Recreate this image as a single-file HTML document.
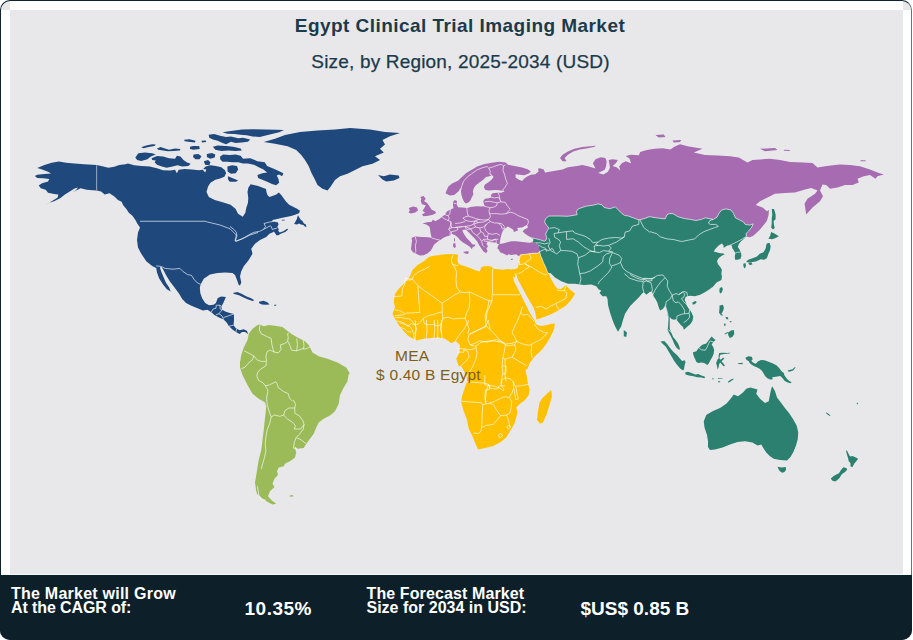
<!DOCTYPE html>
<html><head><meta charset="utf-8"><title>Egypt Clinical Trial Imaging Market</title>
<style>
html,body{margin:0;padding:0;background:#fff;}
body{width:913px;height:640px;overflow:hidden;position:relative;font-family:"Liberation Sans",sans-serif;}
#frame{position:absolute;left:0;top:0;width:910px;height:638px;border:1px solid #6b7378;border-top-color:#0d2430;border-left-color:#0d2430;border-radius:10px;background:#e8e8ea;overflow:hidden;}
.wt{position:absolute;background:#fff;}
#map{position:absolute;left:0;top:0;}
.t1{position:absolute;left:0;width:920px;text-align:center;top:14.8px;font-size:19px;font-weight:bold;color:#1b3a4b;letter-spacing:0.45px;white-space:nowrap;}
.t2{position:absolute;left:0;width:921px;text-align:center;top:50.6px;font-size:19px;color:#1b3a4b;-webkit-text-stroke:0.25px #1b3a4b;letter-spacing:0.18px;white-space:nowrap;}
#foot{position:absolute;left:0;top:575px;width:912px;height:65px;background:#0d1f29;border-radius:0 0 10px 10px;}
.f{position:absolute;color:#fff;font-weight:bold;white-space:nowrap;}
.lab{position:absolute;color:#7d5f17;font-size:15.5px;white-space:nowrap;text-align:center;}
</style></head><body>
<div id="frame"></div>
<div class="wt" style="left:10px;top:1px;width:892.5px;height:9px"></div>
<div class="wt" style="left:1px;top:10px;width:9px;height:566px"></div>
<div class="wt" style="left:902.5px;top:10px;width:8.5px;height:566px"></div>
<div class="wt" style="left:1px;top:574.2px;width:910px;height:1.2px;background:#f4fafa"></div>
<svg id="map" width="913" height="640" viewBox="0 0 913 640">
<path fill="#a66bb0" d="M410.95,249.15 411.5,244.76 412.05,240.38 411.5,237.65 415.33,236.55 421.91,236.88 428.48,237.32 431.76,237.97 430.67,233.81 430.12,229.98 429.57,226.69 426.29,224.5 422.45,223.41 426.83,222.31 431.76,221.76 432.86,219.57 435.05,221.22 439.43,219.03 442.17,216.83 444.91,214.64 447.1,211.36 450.38,209.72 453.67,208.07 453.14,206.48 452.92,202.1 454.79,199.91 456.98,201 456.65,204.29 458.07,207.35 461.91,207.57 467.38,208.12 470.67,207.03 476.14,206.26 481.62,206.48 484.69,205.93 483.81,203.74 483.26,201 484.91,198.81 488.74,198.26 491.48,197.17 490.93,194.98 492.57,193.34 496.96,192.79 501.34,192.79 504.62,191.14 499.15,190.27 494.76,190.05 489.29,190.6 485.45,190.05 483.81,187.31 484.91,184.57 488.19,182.38 491.48,179.64 493.67,176.91 492.03,175.26 489.29,176.36 486,176.91 483.26,179.64 479.43,182.38 476.14,185.12 473.95,187.86 472.86,191.14 473.41,194.43 471.76,197.17 470.67,199.91 469.03,202.1 466.83,203.19 465.74,203.19 464.1,202.1 462.45,198.26 461.36,194.43 460.81,190.05 460.59,187.86 458.62,191.14 454.24,194.98 449.86,195.53 445.48,193.34 448.21,186.76 452.05,183.48 458.07,180.74 461.91,176.91 466.29,173.07 471.76,169.79 477.24,166.5 483.81,164.31 491.48,162.67 499.15,161.79 505.72,162.45 507.91,164.86 514.48,165.95 522.15,167.6 527.62,169.24 530.91,171.43 528.72,173.62 524.34,175.26 519.96,174.72 515.58,174.17 515.58,177.45 518.86,179.64 522.15,181.07 524.34,178.55 527.62,176.36 530.91,174.72 535.29,174.17 538.58,171.43 538.03,168.69 540,168.14 543.75,169.5 545,172.5 552.5,171.25 562.5,169.5 567.89,167.2 577.09,165.89 582.34,164.97 588.92,166.55 595.49,168.52 592.86,163.26 595.49,159.32 600.75,157.34 605.35,158 606.66,161.29 606,166.55 604.69,169.83 598.12,173.12 603.38,174.43 607.98,171.8 609.95,167.86 609.29,163.26 608.63,159.97 612.58,159.32 617.83,159.97 615.86,163.26 612.58,165.89 616.52,167.2 620.46,170.49 619.15,166.55 621.78,163.26 625.72,161.29 630.98,163.26 629.66,158.66 625.72,156.03 630.98,154.72 638.86,155.37 640.18,152.09 646.75,150.12 654.64,148.8 662.52,148.14 670.41,149.46 674.35,146.83 680.01,144.2 687.5,146.25 702.5,148.75 693.75,152.5 705,155 717.5,155.5 730,156.25 738.75,157.5 747.5,162.5 752.5,160 760,159.5 770,158.75 780,160 790,162 802.5,162.5 812.5,163 817.5,167.5 825,166.25 835,165 840,164.5 850,165 860,166.25 870,169.5 877.5,172.5 883.75,174.5 877.5,176.25 875.5,178.75 870,175 863.75,176.25 857.5,178.75 858.75,182.5 852.5,185 845,185 837.5,187.5 830,188.75 826.25,185 822.5,184.5 820,190.5 823,196.25 820,201.25 812.5,207.5 806.25,214.5 804.5,203.75 807.5,198.75 815,193.75 817.5,190.5 811.25,188 805,189.5 795,192.5 785,193 775,193.75 767.5,197.5 760,201.25 755.75,205 762.5,207.5 767,211.25 769,210 768.46,215.48 766.81,220.95 763.53,225.33 759.69,229.72 755.86,233.55 752.57,236.29 749.29,237.16 747.1,236.83 735,235 675,230 625,225 557.62,242.86 540.1,241.76 532.43,237.93 531.34,237.38 528.05,235.74 524.76,233.55 522.57,231.36 524.76,229.17 528.05,227.52 526.96,225.33 524.76,226.43 521.48,227.52 517.1,228.07 518.19,230.26 516,231.36 513.81,231.91 513.26,229.72 510.53,228.07 507.79,226.43 505.05,228.62 502.86,230.81 501.76,233.55 501.22,235.19 500.67,237.38 500.12,240.67 499.57,243.95 497.38,243.95 496.29,242.86 491.91,242.31 487.52,241.76 486.43,243.95 488.07,246.14 486.43,248.34 487.52,251.07 486.43,252.72 484.79,251.62 483.69,248.88 486.53,253.53 483.24,251.34 481.05,248.05 478.86,244.76 477.22,241.48 474.48,238.19 471.19,234.91 467.91,231.62 465.72,229.43 462.43,229.98 462.98,232.17 464.62,234.91 466.81,238.19 470.1,241.48 472.29,244.22 475.58,244.76 474.48,246.41 472.84,246.96 471.74,249.15 470.1,246.96 466.81,244.76 462.98,242.57 459.69,239.84 457.5,237.1 454.76,234.91 451.48,233.81 449.84,235.78 446,236.55 442.72,238.19 439.98,240.16 437.24,242.03 433.95,244.76 432.31,248.05 430.67,250.79 427.38,253.53 423.55,255.17 419.72,255.5 415.88,253.53 413.14,252.43Z M499.57,243.95 502.86,243.41 507.24,242.31 511.62,241.22 516,241.22 520.38,241.76 524.76,242.31 529.15,242.86 532.43,242.31 535.72,242.86 538.46,245.05 539,248.34 539.55,251.62 537.91,253.26 533.53,253.26 529.15,253.81 524.76,254.36 520.38,254.91 519.29,256.55 516,254.36 511.62,254.91 508.34,254.36 507.24,255.45 503.95,253.81 500.12,252.17 499.03,249.98 497.38,248.34 497.93,246.14 498.7,244.61Z M420.26,197.12 423.55,196.02 425.74,198.76 424.1,200.95 427.38,203.14 429.57,206.43 431.76,209.72 435.05,211.36 436.14,213 432.86,214.64 428.48,215.74 423.55,216.29 421.91,214.64 425.19,212.45 422.45,210.81 424.1,208.62 425.74,205.33 421.91,204.24 420.81,200.95 421.36,198.76Z M408.76,208.07 413.14,206.43 416.98,207.52 418.07,210.26 415.33,212.45 410.95,213.55 408.54,212.45 409.86,210.26Z M462.98,251.88 466.81,251.34 469,251.56 467.91,254.07 465.17,253.53Z M453.12,243.67 455.31,243.12 455.86,246.96 454.22,248.05 453.12,246.41Z M454,238.19 454.98,238.19 455.09,241.48 454.22,241.48Z M655.5,135 663.75,134.5 665.5,137 658.75,137.5Z M672.5,140.5 681.25,140 680,142 673.75,142.5Z M760,148.75 775,148 777.5,150 765,151.25Z M783.75,149.75 790,150 789.5,151 784,150.75Z M860.5,160.25 865.5,160.25 865.5,161.25 860.5,161.25Z M560,158 562.63,154.72 567.89,151.43 574.46,148.8 582.34,147.09 590.23,146.17 595.49,145.78 594.83,146.83 587.6,148.14 579.72,149.46 573.14,151.43 567.89,154.72 564.6,158 566.57,161.29 562.63,161.29Z M510.74,258.96 512.94,258.63 512.72,259.84 510.96,259.95Z"/>
<path fill="#2b8070" d="M771.74,209.12 773.93,209.12 774.7,211.1 775.58,214.38 775.58,219.31 773.6,220.95 773.93,224.79 774.7,228.07 772.84,229.5 771.19,227.52 771.74,223.14 771.74,218.76 772.29,214.38Z M532.43,237.93 535.72,238.7 540.1,239.79 544.48,241.22 546.12,240.12 546.67,237.38 545.58,234.1 547.22,230.81 548.86,228.07 546.67,225.33 544.48,222.05 545.58,218.76 548.86,216.02 560,216 567.89,216.27 577.09,214.69 576.43,211.4 578.4,208.77 586.29,206.15 592.86,205.23 598.12,203.91 602.06,204.83 604.03,207.46 609.95,208.77 615.21,206.8 617.83,209.43 621.78,213.38 624.41,215.35 628.35,216 633.61,217.98 638.86,219.95 644.12,218.63 649.38,216.66 657.27,217.98 665.15,218.9 667.12,214.69 669.1,213.64 673,213.65 677.6,216.55 684.17,218.52 690.75,219.44 696,220.49 701.26,219.44 705.21,217.86 709.15,218.52 713.09,219.44 717.03,217.2 719.01,213.26 721.64,209.97 726.24,208.92 730.84,209.97 733.46,213.26 735.44,217.86 739.38,219.83 743.32,221.8 745.29,224.43 749.89,225.09 753.18,223.77 751.87,227.06 748.58,231 745.95,233.63 746.61,236.26 743.81,239.03 741.07,241.22 738.88,243.95 737.79,246.69 739.43,249.43 741.07,252.72 741.4,256 740.53,258.74 737.79,259.84 735.05,259.84 734.83,256.55 735.27,253.26 733.95,250.53 732.31,248.34 731.76,245.6 730.12,245.05 727.38,245.6 724.64,247.24 723.55,247.79 723.55,245.6 721.91,243.41 718.62,245.6 715.33,248.88 713.69,251.4 716.43,252.17 720.26,253.26 723.55,253.59 724.64,254.36 721.36,256 718.62,258.19 716.98,260.93 718.07,264.22 720.26,266.96 721.91,269.69 721.36,273.53 721.91,276.81 721.36,280.1 716.53,282.6 713.24,286.43 708.86,289.72 704.48,292.45 700.1,294.64 695.72,296.07 694.62,296.29 690.24,295.74 686.96,296.29 685.31,297.38 684.76,300.12 685.86,302.86 687.5,306.14 689.69,309.43 691.88,313.26 693.31,317.1 692.43,320.93 690.24,324.22 686.96,326.96 683.89,329.69 683.02,327.11 680.56,324.65 678.1,321.69 676.12,319.22 673.66,319.72 671.19,318.73 669.72,316.76 669.72,322.67 669.72,328.59 671.19,332.53 673.17,336.97 675.63,339.93 678.1,343.38 679.57,347.32 680.07,349.78 678.1,349.29 676.12,347.32 674.15,343.87 672.67,339.93 670.7,335.98 668.73,332.53 667.55,330.07 668.04,327.6 668.34,322.67 667.94,316.76 666.76,310.84 665.28,305.91 665.27,303.95 664.5,306.69 662.86,308.88 660.12,310.53 658.7,307.24 657.38,302.86 655.74,299.57 653.55,296.29 651.91,291.36 649.72,291.91 646.43,294.64 643.69,291.91 642.05,293.55 638.76,297.38 634.38,301.76 630,306.14 625,313.75 623,320 621.25,326.25 618,331.75 615,326.25 612.5,320 610,312.5 608,305 607.5,298.75 606.25,296.25 602.5,296.25 599.5,293 601.25,290.5 598.75,289.5 596.25,286.25 591.25,284.5 583.75,285 575,283.75 568,283.75 561.25,281.25 555,277.5 550.5,273 545.58,274.07 542.29,264.76 539.55,257.1 538.57,253.81 539.55,251.62 539,248.34 538.46,245.05 535.72,242.86 532.43,242.31 533.53,240.12Z M623.75,330 627,332.5 626.25,337 623.75,336.25Z M692.39,302.46 695.35,300.99 696.83,301.97 694.85,304.14 692.59,304.44Z M719.81,288.07 722,286.98 722.88,289.17 721.79,292.45 720.03,293.55 719.27,290.81Z M771.19,231.91 774.48,233.55 778.86,236.29 775.58,237.93 772.29,239.35 768.46,238.7 770.1,235.74Z M766.81,243.41 769.55,242.86 770.65,246.14 770.1,249.98 768.46,253.81 766.81,258.19 764.07,259.84 760.79,259.29 758.05,260.38 755.86,261.48 752.57,262.03 749.29,262.57 746,262.03 748.19,259.84 752.57,258.19 756.96,256.55 759.69,253.81 763.53,252.17 765.72,248.34 766.27,245.05Z M748.19,263.12 751.48,262.57 752.57,264.22 749.84,265.31Z M743.26,263.67 745.45,263.12 746,265.86 744.91,268.6 743.59,266.96Z M660.42,341.41 664.37,340.91 667.32,344.37 670.28,348.31 673.73,352.25 677.18,355.21 679.65,358.17 682.11,361.12 684.57,360.14 685.56,362.11 684.57,365.56 684.08,369.01 683.1,370.49 680.14,368.52 677.18,365.07 674.22,361.12 671.76,356.69 668.8,351.76 665.84,346.83 662.39,343.38Z M685.07,372.46 688.02,371.67 691.47,372.95 695.42,374.43 698.38,373.94 701.33,375.42 704.78,376.4 704.78,378.18 701.33,377.59 697.39,377.19 693.45,376.21 689.01,375.42 685.56,374.43Z M727.95,381.83 730.41,379.85 733.37,378.38 733.67,379.16 730.91,381.14 728.44,382.81Z M711.98,378.38 713.75,378.38 713.75,379.16 711.98,379.16Z M717.89,378.18 722.63,378.38 722.63,379.07 717.89,378.97Z M717.89,381.33 720.06,381.33 720.26,382.32 718.09,382.32Z M738.3,363.39 742.74,363.59 742.74,364.18 738.3,364.08Z M692.95,352.25 696.4,351.27 698.87,347.82 702.32,344.86 706.26,343.38 709.22,339.44 711.68,336.48 713.66,338.45 715.63,339.93 713.16,341.9 711.68,344.86 713.16,346.83 714.15,349.79 713.66,353.73 712.18,357.18 710.21,360.63 708.73,363.59 707.25,365.07 704.29,363.1 701.33,362.6 698.38,363.1 696.4,362.11 694.93,358.66 693.45,355.21Z M716.12,363.1 717.6,359.15 719.08,357.67 720.56,359.65 723.02,357.87 724.5,358.17 722.53,360.14 721.54,361.62 723.51,363.59 724.99,366.05 723.51,366.35 721.54,364.08 720.06,362.6 719.08,364.57 718.58,367.53 717.6,369.5 717.11,366.55Z M718.88,353.93 719.27,353.04 723.02,352.74 727.95,352.94 729.92,352.55 729.43,353.53 724.01,353.93 720.26,354.72 719.57,357.87 718.58,357.87Z M719.5,305.42 722.95,304.73 723.94,307.89 722.95,311.34 721.47,313.8 723.44,315.77 720.98,315.28 719.01,312.82 719.5,308.87Z M725.41,316.76 727.88,317.25 728.37,319.22 726.4,319.22Z M723.94,323.66 725.41,323.46 725.71,325.63 724.13,325.83Z M729.65,321.19 731.33,321.1 731.43,322.28 729.85,322.28Z M728.37,332.53 730.84,330.56 733.79,330.07 734.29,334.01 732.31,336.97 729.85,337.95 728.37,335.49 727.88,333.02 724.92,334.5 724.43,333.81 727.68,332.04Z M737.96,363.24 742.39,362.74 742.69,363.73 738.15,364.12Z M745.35,357.82 748.31,356.34 751.76,356.83 752.74,359.29 751.27,360.77 753.24,362.74 755.7,363.73 758.17,361.27 761.12,359.98 764.57,360.28 768.52,361.76 772.46,363.24 776.4,365.21 779.36,368.17 781.33,371.12 783.8,373.1 784.29,375.07 786.26,378.02 788.73,380.49 791.68,382.46 790.21,383.25 787.25,382.26 784.78,380.98 782.32,378.02 780.35,376.05 777.39,376.55 773.94,377.04 771.97,377.53 772.95,379.31 770,379.5 767.04,378.02 765.07,376.05 763.59,373.59 762.11,371.12 759.65,368.66 756.69,367.18 754.22,366.19 751.76,364.72 749.79,363.24 748.8,361.27 746.34,359.79Z M787.74,370.43 790.21,369.65 792.67,369.15 794.15,367.48 795.63,366.88 794.64,368.66 793.16,370.43 790.21,371.62 788.23,371.42Z M703.75,421.25 706.25,415 712.5,411.25 720,408 726.25,403.75 730,399.5 733.75,394.5 738,396.25 743,392.5 746.25,388.75 750.5,387.5 757.5,389.5 756.25,393.75 760,398.75 765,403 768.75,401.25 770,394.5 771.25,388.75 772.25,386.25 775,391.25 777,397.5 781.25,403 784.5,407.5 789,413 793,419 796.75,425.75 798.25,432.5 797.75,439.25 796,445.5 793.5,451.75 790.5,457 787,460.5 780,460 773.75,458.75 770,456.25 766.25,452.5 763.75,448.75 761.25,444.5 757.5,445.5 752.5,442.5 745,441.25 737.5,442 730,444.5 722.5,447.5 715,449.5 710,450 708,447 708,441.25 707,435 704.5,427.5Z M777.63,466.7 781.47,467.47 785.76,467.01 786.07,469.77 784.53,472.07 782.23,472.84 779.93,471.3 778.4,469Z M845.87,450.3 847.4,451.37 848.63,453.98 850.16,456.43 852.31,456.12 855.38,457.35 858.14,458.73 856.3,461.34 854.15,463.79 852.46,467.16 850.47,466.24 850.47,463.18 848.63,461.03 848.02,457.96 846.79,453.98Z M843.57,467.16 846.64,468.24 847.1,469.77 845.1,472.07 842.04,473.91 840.96,475.44 839.74,477.74 837.44,480.04 835.14,481.58 832.07,480.5 830.84,478.51 833.3,476.36 835.9,474.83 838.97,473.3 840.5,470.84 842.04,468.7Z M825.94,412.27 828.24,413.49 830.54,415.64 829.77,415.95 827.47,414.57 825.94,413.03Z M856.76,402.76 857.83,402.76 857.83,404.29 856.76,404.29Z"/>
<path fill="#ffc000" d="M428.75,257 435,255.5 440,255 440,254.79 446.57,254.24 454.24,254.02 458.07,254.79 457.52,259.17 458.07,263 460.81,264.97 465.19,266.29 470.67,268.26 476.14,270.45 479.98,271.54 481.07,267.38 483.81,266.29 488.19,266.07 491.48,266.83 493.67,268.7 498.05,269.35 503.53,269.79 507.91,269.03 511.19,269.57 515.58,269.03 517.77,267.93 518.86,263.55 519.74,259.72 520.5,255.88 520.83,254.02 524.76,254.36 529.15,253.81 533.53,253.26 537.91,253.26 539.55,251.62 540.65,256 542.29,259.29 543.38,262.57 545.58,266.96 547.22,271.34 548.86,274.07 551.48,280 553.12,282.19 554.76,285.48 556.96,288.21 560.24,289.31 562.98,287.67 565.72,284.93 566.81,286.02 569,288.76 572.29,291.5 575.03,293.69 573.38,296.43 570.1,301.36 565.72,305.74 561.34,308.48 556.96,311.22 551.48,313.95 546,316.14 540.53,318.34 536.36,319.43 535.93,316.14 535.05,311.76 533.08,306.83 530.23,301.91 527.05,296.43 524.1,290.95 521.03,285.48 518.07,280 516.67,276.14 516.12,272.86 515.58,276.14 515.03,277.79 512.84,276.14 511.19,272.86 512.29,275.05 514.48,281.62 513.14,280 516.43,286.02 519.72,292.6 522.45,298.07 524.97,303.11 527.6,308.48 530.23,313.63 532.86,317.79 535.05,321.07 535.05,322.72 537.24,324.91 541.62,326 547.1,324.91 551.48,323.81 554.76,323.48 554.22,328.19 552.57,332.57 549.84,338.05 546.55,343.53 543.26,347.91 541.62,350.1 535,356.25 530,362.5 527.5,368.75 525.5,370 527,377.5 528,383.75 529.5,388.75 528.75,395 525,400 520,403.75 516.25,407.5 517.5,412.5 515.5,420 513.75,425 510,431.25 506.25,437.5 500,442.5 492.5,446.25 485,448 478,449.5 475,442.5 472.5,436.25 468.75,428.75 467,420 463.75,411.25 461.25,402.5 462,396.25 464.5,388.75 467,381.25 466.25,375 461.25,366.25 458.75,366.25 456.25,358.75 459.5,352.5 460,345 456.25,341.25 451.25,343 445,338.75 438.75,337.5 431.25,338 423.75,338.75 416.25,340.5 408.75,336.25 403.75,331.25 398.75,325 395,318.75 392.5,313.75 395,307.5 393.75,301.25 395,293.75 398.75,288.75 405,282.5 410,276.25 412.5,270 417.5,265 423.75,261.25Z M551.25,390 552,396.25 549.5,405 546.25,415 543,422.5 540,423.75 537,420 538,411.25 539.5,402.5 542.5,398 547,393.75Z"/>
<path fill="#1f497d" d="M58.92,161.45 51.69,162.65 44.46,165.06 37.23,168.07 41.45,169.28 48.07,171.69 51.08,173.49 44.46,174.1 37.23,174.7 34.82,175.9 37.23,177.95 43.25,178.31 49.28,178.92 48.07,181.57 42.05,183.13 38.67,185.54 40.84,188.31 45.66,189.76 48.07,192.77 54.1,193.98 58.31,194.58 57.71,197.59 52.89,200.6 48.07,203.61 43.86,205.66 49.28,202.77 54.1,201.2 60.12,198.19 64.94,194.58 69.76,191.57 74.58,188.55 78.19,187.59 75.78,190.36 72.41,192.17 78.19,189.4 80.6,188.31 86.63,189.76 92.65,190.36 96.63,190.6 101.08,191.57 104.7,194.58 109.52,193.37 114.34,196.39 117.95,200 121.57,201.81 123.37,205.42 126.39,209.04 128.8,212.65 132.41,215.66 135.42,219.88 137.23,223.49 140,227.5 138,232.5 137,240 138,247.5 141.25,253.75 146.25,261.25 152.5,266.25 156.25,268 155.83,265.37 156.9,272.27 159.2,278.4 163.03,284.53 166.87,289.13 170.7,291.43 169.17,287.6 166.1,283 163.8,277.63 161.5,272.27 159.97,267.67 161.04,266.44 163.03,269.2 166.1,275.33 169.93,281.47 174.53,287.6 179.13,293.74 182.2,299.1 186.04,302.94 191.4,305.7 197.54,308.3 202.9,310.6 207.5,309.84 211.34,312.14 214.4,314.9 219,317.5 223.6,319.5 226.67,322.56 228.97,326.24 232.8,329.77 235.87,332.07 239.7,333.91 242,332.07 245.07,332.07 248.14,333.91 246.91,330.84 243.54,329.31 239.7,330.23 235.87,328.24 233.57,325.17 234.03,319.8 233.88,313.98 229.74,312.9 225.9,311.83 222.07,309.84 221.3,306.77 223.3,302.94 225.9,297.11 221.3,296.5 217.78,298.03 215.94,302.94 213.64,304.78 209.04,305.24 205.2,302.94 202.14,298.34 200.3,292.97 199.84,287.6 200.6,284.53 203.75,278.75 210,274.5 217.5,273 225,272.5 232.5,273 235,275 237,280 238.75,285 240,285.5 241.25,282.5 240,276.25 241.25,271.25 243.75,266.25 248.75,260 252.5,253.75 251.25,248.75 255,243.75 260,240 266.25,237 269.43,233.87 272.39,232.39 273.87,231.4 275.35,233.38 276.33,235.15 278.3,235.35 281.26,233.38 285.21,231.9 288.16,229.43 287.18,228.74 283.23,231.21 279.78,232.59 278.3,230.91 278.8,228.94 277.32,226.97 278.5,224.5 277.81,222.04 274.36,221.15 271.4,221.35 273.38,219.87 277.32,219.08 281.26,218.1 286.19,217.11 291.12,216.12 295.06,214.65 299.01,213.17 299.99,210.7 297.03,208.73 293.09,206.76 289.15,204.79 286.19,201.83 283.73,198.38 281.26,194.93 278.8,192.46 276.33,194.44 272.39,195.91 269.43,196.9 267.46,194.93 266.47,191.97 266.04,189.08 258.15,186.12 250.66,184.15 248.3,187.7 247.51,192.03 248.3,197.95 247.9,202.88 246.32,207.81 245.34,212.74 242.78,216.68 238.04,213.72 235.48,208.79 230.55,204.85 222.67,202.29 214.78,199.92 208.86,196.96 206.5,192.03 208.07,186.45 210.48,182.83 215.3,179.82 220.12,178.61 224.34,176.81 226.14,173.19 224.94,170.18 221.33,167.17 215.9,165.96 210.48,165.36 205.66,166.57 203.25,168.98 206.39,169.58 205.18,172.59 202.77,169.82 199.16,170.18 191.93,169.58 184.7,168.98 178.67,169.82 176.87,173.19 175.06,169.82 170.24,170.54 163.01,170.18 156.99,168.37 149.76,166.57 141.33,165.96 134.1,165.36 128.07,163.55 123.25,164.76 117.23,166.57 110,167.77 132.41,165.66 128.8,163.86 125.18,164.22 119.16,165.06 114.34,166.87 108.31,167.83 102.29,166.27 96.63,165.06 92.65,164.7 84.22,164.22 74.58,163.49 66.14,162.65Z M220.12,156.57 223.13,154.52 229.76,155.12 235.78,154.52 240.6,155.72 243.01,158.73 250.24,158.13 257.47,161.14 264.7,162.35 267.11,165.96 274.34,168.98 279.76,171.39 283.37,173.19 282.17,176.2 279.16,174.4 276.75,175.6 278.55,179.22 279.16,182.83 276.14,185.24 271.93,184.04 267.11,181.63 262.29,179.82 258.07,178.01 257.47,175 262.29,173.19 267.11,172.59 263.49,169.58 258.67,167.17 253.86,164.76 247.83,163.55 243.01,163.55 238.19,162.35 232.17,162.35 227.35,161.75 222.53,161.75 220.12,159.34Z M212.89,146.69 217.71,145.48 226.14,146.08 233.37,146.69 240.6,148.49 241.81,150.54 235.78,150.9 228.55,150.54 221.33,150.9 215.3,149.7Z M208.67,134.64 214.1,134.04 220.12,135.84 226.14,137.05 230.96,136.45 238.19,138.25 243.01,137.65 250.24,139.46 247.83,141.87 241.81,142.47 235.78,143.07 230.96,141.87 226.14,144.28 222.53,143.07 217.71,140.66 212.89,139.46 209.28,137.65Z M222.53,132.23 230.96,131.02 241.81,129.58 252.65,129.22 264.7,129.58 276.75,129.82 283.98,130.06 279.16,132.23 271.93,134.04 264.7,135.84 259.88,137.05 252.65,136.45 246.63,135.24 240.6,134.64 234.58,134.04 227.35,133.67Z M201.45,140.66 205.66,140.42 206.27,142.11 202.05,142.47Z M206.87,153.92 211.69,152.95 215.3,154.52 214.7,157.53 210.48,158.73 206.87,156.93Z M193.61,154.52 198.43,153.92 201.45,156.33 199.64,159.34 195.42,159.34 193.01,156.93Z M203.86,161.14 208.07,159.94 210.48,162.35 209.28,165.36 205.06,164.76Z M190,146.69 194.82,146.08 199.64,147.29 199.04,149.1 193.61,149.7 190,149.1Z M227.35,166.57 232.17,165.36 236.99,165.96 238.19,169.58 235.78,173.19 230.96,173.8 227.59,171.39Z M227.95,176.2 232.17,178.01 238.19,180.42 235.78,181.87 229.76,181.63 227.95,179.22Z M135.3,157.53 138.31,153.31 144.94,152.47 152.17,153.31 155.78,154.52 150.96,156.57 147.35,159.34 141.33,160.9 137.11,159.94Z M151.57,158.13 156.99,156.08 163.01,156.57 169.04,158.13 175.06,158.73 176.87,155.72 180.48,156.57 183.49,159.94 187.11,162.59 190.72,163.8 188.31,165.96 182.29,166.57 177.47,165.36 172.65,166.57 166.63,167.77 161.81,166.57 156.99,164.76 154.58,162.35 155.78,160.54 152.17,159.94Z M156.99,148.49 160.6,146.93 164.22,148.13 169.04,149.7 175.06,148.49 180.48,149.1 179.88,150.54 173.86,150.9 167.83,151.27 163.01,150.54 158.19,149.7Z M141.08,147.29 146.14,145.48 152.17,144.28 155.78,144.52 154.58,146.08 148.55,146.93 143.73,148.13Z M184.1,139.7 189.52,139.22 195.54,140.66 194.94,142.47 188.31,141.87 184.7,141.27Z M190.12,146.69 199.16,146.08 199.76,149.1 193.13,149.7 190.12,148.49Z M298.02,215.14 299.01,217.11 300.49,219.57 302.46,221.05 303.94,223.52 305.91,224.5 306.4,226.97 304.92,226.47 303.44,225 300.98,224.5 299.01,223.52 297.03,224.5 294.08,224.01 295.56,221.55 296.84,219.08 297.53,216.62Z M281.75,219.87 284.71,219.87 284.71,220.46 281.75,220.46Z M263.75,142 275,138.75 285,135 300,132 317.5,130.5 335,129.5 350,128 370,129.5 385,132 400,133 390,136.25 382.5,140 385,144.5 380,148.75 383.75,152.5 375,156.25 380,160 372.5,163.75 362.5,166.25 355,170 347.5,173.75 340,176.25 335,180 330,187.5 327.5,190.5 322.5,188.75 317.5,185 314.5,178.75 311.25,172.5 308.75,166.25 305,160 301.25,155 296.25,150 287.5,146.25 275,143.75Z M378,175 383.75,176.25 390,174.5 398.75,175.5 399.5,178 393.75,180.5 386.25,181.5 382.5,179.5Z M232.8,292.97 237.4,291.89 242,294.04 246.61,296.5 251.21,298.34 254.27,300.18 252.74,301.1 248.14,299.56 243.54,297.57 238.94,295.27 234.34,294.04Z M258.87,301.71 263.47,300.64 267.31,302.17 269.61,304.47 265.77,304.78 261.94,304.47 259.18,303.24Z M274.21,304.78 276.2,304.78 276.2,305.7 274.21,305.7Z"/>
<path fill="#9bbb59" d="M248.75,333.75 252.5,328.75 257.5,325 260,324.5 263.75,326.25 268.75,325 275,325.75 282.5,327 286.25,330 291.25,333.75 297.5,337.5 305,341.25 308.75,345 312.5,352.5 318.75,356.25 327.5,358.75 337.5,362.5 346.25,367.5 350,373.75 348.75,373.75 347.5,381.25 343.75,387.5 340,395 338.75,403.75 335,411.25 330,415.5 323.75,418.75 318.75,422.5 316.25,427.5 313.75,433.75 310,438.75 306.25,443.75 303.75,448 297.5,448.75 294.5,446.25 296.25,452.5 295,457.5 290,461.25 285,463.75 283.75,466.25 278.75,467.5 277,471.25 278,475 274.5,478.75 272.5,483.75 274.5,487 270,491.25 268,496.25 271.25,500 276.25,503.75 272.5,504.5 266.25,501.25 261.25,497.5 257,493.75 256.25,491.25 255,482.5 256.25,475 257.5,467.5 258.75,460 261.25,450 262.5,440 263.75,430 264.5,422.5 265.5,413.75 266.25,406.25 265,402.5 258.75,398.75 252.5,393.75 247.5,385 242.5,375 240,367.5 240,362.5 241.25,355 243.75,347.5 247.5,340Z M289.5,495.5 293,495 293.25,496.5 290,496.75Z"/>
<path fill="none" stroke="#ffffff" stroke-opacity="0.85" stroke-width="0.75" stroke-linejoin="round" d="M140,221.25 170,221.25 205,221.25 207.5,222 220,225 230,228.75 236.25,235 235.5,241.25 242.5,238.75 250,235 258,232.5 M230,226.47 233.94,229.43 236.41,232.39 236.9,236.33 234.93,240.28 235.91,241.26 239.86,239.78 244.79,237.32 249.72,234.36 253.66,232.39 259.57,231.4 263.52,229.43 265.49,226.47 264.01,223.52 269.43,222.04 274.36,221.35 277.81,222.04 M263.52,229.43 270.42,225.69 271.21,226.67 272.39,229.43 277.32,227.95 M156.13,265.83 161.04,266.44 165.33,268.43 173,269.2 179.9,268.43 182.97,271.5 187.57,274.57 191.4,275.33 194.47,279.93 197.54,283 200.6,284.23 M211.34,312.14 212.87,309.07 215.94,308.3 216.24,305.24 219.77,305.24 221.3,306 M219.77,305.24 220.23,309.07 222.07,309.84 M222.07,309.84 219,313.67 215.94,314.9 M219,313.67 222.07,315.97 223.6,319.5 M223.6,317.5 228.2,315.97 233.88,313.98 M228.97,326.24 233.57,325.17 M235.87,332.07 236.64,328.7 M259.97,324.57 259.32,329.83 261.29,333.77 266.55,336.4 271.15,338.37 271.8,344.29 273.12,349.55 274.43,352.17 M274.43,352.17 278.38,352.83 281,349.55 280.35,344.95 284.29,343.63 287.58,341.66 288.23,337.72 287.58,333.77 288.89,333.12 M288.23,341.66 290.21,346.26 291.52,350.2 296.78,350.86 302.03,348.89 305.98,348.89 308.61,347.57 310.58,346.26 M296.78,338.37 297.43,344.29 296.78,350.86 M303.35,340.34 304.01,345.6 303.35,348.89 M274.43,352.17 270.49,350.2 267.2,351.52 265.89,356.12 266.55,361.38 265.89,365.98 261.29,368.6 258,371.89 256.69,375.83 258.66,380.43 263.26,383.06 265.23,385.69 269.17,385.03 275.75,381.75 277.06,383.72 278.38,387.66 283.63,391.61 288.23,393.58 289.55,398.18 292.83,401.46 M244.2,350.86 249.46,353.49 254.06,356.12 252.09,360.06 248.14,363.35 244.86,367.29 241.57,368.6 M254.06,356.12 257.34,360.06 261.29,361.38 265.89,361.38 M265.23,385.69 267.6,389.64 267.86,391.57 266.55,398.14 267.2,404.72 269.17,411.29 271.15,417.2 M293.49,400.12 295.46,404.06 294.81,408 M271.15,417.2 274.43,414.97 279.69,416.28 283.63,415.23 284.95,410.63 288.89,408 294.81,408 294.81,413.26 299.41,415.89 302.69,420.49 304.01,424.43 M283.63,415.23 287.58,419.17 292.83,422.46 295.46,425.75 294.15,429.03 300.72,429.03 304.01,424.43 303.35,429.03 299.41,434.29 296.12,437.58 300.72,439.55 305.98,443.49 M296.12,437.58 294.15,442.83 293.49,448.09 296.78,449.41 M271.15,417.2 269.83,423.12 267.2,429.69 265.89,437.58 265.23,444.15 265.89,450.72 264.57,457.29 262.6,463.86 261.29,469.12 M257.5,486.25 258.75,495 261.25,500 266.25,500 M429.69,266.43 424.43,269.06 417.86,272.34 413.26,275.63 412.6,279.57 404.72,280.23 404.72,284.17 402.74,288.12 402.09,292.06 401.82,296 393.54,296.66 M404.72,278.39 412.6,279.18 M412.6,279.57 417.86,285.49 424.43,290.75 432.32,296 440.21,301.92 442.18,303.23 450.72,297.32 459.92,292.06 456.64,286.8 455.98,280.23 456.64,272.34 454.66,267.09 452.03,263.8 451.38,259.2 453.35,254.21 M452.03,263.8 456.64,265.77 458.61,265.12 M417.86,285.49 418.52,296 419.44,306.52 419.83,312.43 412.6,312.83 406.03,313.09 404.72,314.41 M404.72,313.35 399.46,310.46 394.86,309.81 M459.92,292.06 466.49,292.72 469.12,291.8 479.64,296.66 490.15,301.26 492.12,300.6 492.12,295.35 M469.12,291.8 469.78,299.95 469.12,307.83 466.49,313.09 465.18,318.35 M442.18,303.23 442.18,311.78 437.58,313.09 433.63,314.41 428.38,315.72 423.12,318.35 421.15,320.98 419.17,323.61 415.23,324.92 M442.83,318.35 448.09,317.03 453.35,319.01 458.61,318.35 465.18,318.35 M442.18,311.78 442.83,318.35 441.52,323.61 440.86,328.86 441.52,334.12 M492.12,300.6 488.84,307.83 486.87,313.09 486.21,319.66 488.84,323.61 490.15,328.86 M394.86,315.72 400.77,315.06 404.72,314.41 M395.52,317.69 400.77,317.3 404.72,318.35 409.97,319.01 415.23,324.92 M396.17,320.98 400.77,321.64 404.72,323.61 407.34,326.24 411.29,323.61 415.23,324.92 416.55,328.86 414.57,334.12 M400.77,327.55 404.72,328.86 407.34,331.49 411.29,332.15 M423.12,318.35 424.43,323.61 428.38,324.92 433.63,324.26 437.58,326.24 441.52,323.61 M465.18,318.35 467.15,323.61 469.12,328.86 467.81,334.12 M415.23,320 415.89,330.52 414.97,340.77 M426.4,320 427.06,330.52 426.01,339.72 M434.29,320 434.68,330.52 433.9,339.19 M437.58,320 437.84,330.52 437.58,338.66 M441.52,320 440.86,327.89 442.18,338.4 M407.34,325.26 411.29,327.89 413.26,333.14 414.57,339.72 M399.46,322.63 403.4,323.94 407.34,325.26 M454.66,342.34 458.61,335.77 463.86,329.2 467.81,322.63 468.46,320 M469.12,334.46 467.81,339.72 470.44,344.97 475.69,346.29 M456.64,348.26 463.86,348.92 470.44,349.57 475.69,348.26 M456.9,352.2 463.86,352.2 463.86,349.18 M463.86,349.57 467.81,351.55 469.12,356.8 466.49,360.75 463.86,363.38 460.58,366.27 M475.69,346.29 477.01,352.86 475.69,359.43 473.07,366 469.12,372.58 466.49,377.83 465.18,381.12 M469.12,334.46 477.01,330.52 484.89,326.57 487.52,322.63 488.84,320 M475.69,346.29 480.95,342.34 488.84,341.03 496.72,339.72 503.3,342.34 505.01,343 M466.49,381.78 474.38,382.43 484.89,383.09 488.84,384.41 490.15,388.35 496.72,389.01 499.35,385.72 505.01,385.72 M488.84,384.41 486.21,390.98 485.55,398.86 486.21,404.12 M522.58,306.57 520.6,312.49 522.58,315.12 527.83,314.46 531.78,318.4 534.41,321.69 M520.6,312.49 517.98,319.72 514.69,326.29 512.06,332.86 514.69,336.8 516.66,341.4 522.58,344.03 529.15,345.35 531.78,344.03 M534.41,324.32 538.35,329.57 543.61,332.2 547.55,332.86 540.98,339.43 531.78,344.03 531.12,352.58 532.43,357.83 M486.43,326.29 493.66,332.86 500.23,340.75 505.49,344.03 512.06,343.38 516.66,341.4 M489.06,300 487.74,307.89 485.12,315.77 485.77,322.34 486.43,326.29 477.89,330.23 470,334.17 M470,344.69 475.26,343.38 479.2,340.75 487.09,342.06 493.66,340.75 500.23,342.06 505.49,344.69 508.12,346 514.69,344.69 516.66,341.4 M505.49,344.69 504.17,352.58 502.86,357.83 504.83,359.15 512.06,357.18 516,349.95 514.69,344.69 M512.06,357.18 519.95,361.78 526.52,365.72 M502.86,357.83 502.2,365.72 502.86,373.61 501.55,378.86 500.89,384.12 M502.86,365.72 506.15,366.38 505.75,373.61 502.86,373.61 M504.83,359.15 505.49,367.03 504.83,374.92 506.15,381.49 M461.57,401.29 469.72,401.95 480.89,402.6 482.86,404.57 489.43,403.26 M482.86,404.57 482.2,414.43 481.81,424.95 481.55,427.58 480.89,431.52 478.26,433.49 473.4,433.1 M481.55,427.58 485.49,425.6 489.43,424.95 493.38,424.29 497.32,419.69 500.6,415.75 M489.43,403.26 493.38,404.57 496,409.17 500.6,415.75 506.52,415.09 509.81,413.12 511.12,407.86 511.78,401.29 509.15,397.34 M489.43,403.26 494.69,401.29 501.26,398 505.21,396.69 509.15,397.34 M506.52,415.09 508.49,419.69 509.15,423.63 510.46,426.92 M506.91,426.92 507.83,425.6 509.41,425.6 510.2,427.31 509.15,428.89 507.57,428.63 506.91,426.92 M498.37,435.46 499.68,433.75 501.66,433.89 502.31,435.73 501,437.3 499.16,437.17 498.37,435.46 M484.83,375 484.83,384.86 489.43,385.52 489.43,389.46 485.49,390.12 484.83,396.03 485.49,402.6 M489.43,385.52 494.69,386.17 499.95,388.14 503.23,390.77 503.89,388.8 501.26,385.52 501.92,380.26 505.21,377.63 510.46,378.94 513.09,381.57 M513.09,381.57 513.75,388.14 511.78,393.4 509.15,397.34 M513.09,381.57 515.72,386.83 517.03,393.4 518.35,398.66 515.72,399.97 515.06,394.72 513.75,388.14 M515.72,386.17 522.29,385.52 528.86,384.2 M529.15,253.81 531.34,258.19 526.96,261.48 524.76,263.67 519.29,264.76 M524.76,263.67 529.15,266.96 524.76,269.69 521.48,272.43 518.19,273.53 M524.76,263.67 531.34,266.96 537.91,271.34 544.48,274.62 547.22,274.07 M514.91,272.98 516.55,277.91 M518.19,261.48 519.84,262.03 519.51,264.76 M519.29,256.55 520.38,254.91 524.76,254.36 529.15,253.81 533.53,253.26 537.91,253.26 539.55,251.62 540.65,256 542.29,259.29 543.38,262.57 545.58,266.96 547.22,271.34 548.86,274.07 M535.6,307.38 541.62,306.29 546,309.03 550.38,306.29 555.86,303.55 561.34,300.81 565.72,298.62 566.81,293.14 564.62,290.41 561.34,290.95 556.96,289.86 M555.86,303.55 557.5,307.93 559.69,309.57 M564.62,290.41 565.72,286.57 566.27,284.93 M492.57,268.7 492.57,294.76 519.96,294.76 M549.46,228.26 554.72,227.6 559.32,229.57 558,232.86 554.06,233.52 554.72,237.46 558.66,239.43 560.63,242.06 559.32,245.35 560.63,250.6 556.69,253.89 550.77,250.6 548.14,246 550.12,242.72 548.8,238.12 M558,232.86 566.55,231.55 573.12,230.89 574.43,232.86 578.38,234.17 584.95,236.15 590.21,239.43 592.83,242.72 598.09,242.06 602.03,239.43 608.61,238.12 615.18,237.46 621.75,238.12 624.38,236.8 625.04,232.2 629.64,230.89 632.27,226.29 638.84,224.32 638.84,219.72 M566.55,231.55 566.55,239.43 573.12,238.77 578.38,242.06 583.63,246.66 590.21,250.6 594.81,251.92 M560.63,250.6 565.23,250.6 571.8,251.26 577.06,253.89 578.38,257.83 584.95,255.21 590.21,251.26 594.81,251.92 599.41,252.58 603.35,250.6 608.61,251.26 612.55,251.92 M612.55,251.92 606.64,253.89 603.35,256.52 602.69,261.78 598.09,265.72 594.15,268.35 590.21,270.98 584.95,272.95 579.69,273.61 M578.38,257.83 577.72,264.41 579.03,269.66 579.69,273.61 581,278.86 579.69,284.12 M612.55,252.58 609.92,257.83 609.26,263.09 611.89,267.03 608.61,272.29 603.35,277.55 599.41,281.49 598.09,284.12 M612.55,252.58 619.12,255.21 621.75,258.49 620.44,262.43 616.49,264.41 611.89,265.72 M620.44,262.43 623.07,268.35 627.01,271.64 633.58,274.92 640.15,277.55 644.1,278.86 650.67,278.86 655.01,277.55 M624.38,273.61 629.64,278.21 637.52,280.84 642.78,281.49 644.1,278.86 M594.81,251.92 594.15,246 598.09,245.35 603.35,246 608.61,245.35 611.24,247.98 608.61,251.26 M598.09,242.06 595.46,244.69 598.09,245.35 M608.61,245.35 616.49,242.06 624.38,236.8 M532.43,237.93 535.72,238.7 540.1,239.79 544.48,241.22 546.12,240.12 546.67,237.38 545.58,234.1 547.22,230.81 548.86,228.07 546.67,225.33 544.48,222.05 545.58,218.76 548.86,216.02 560,216 567.89,216.27 577.09,214.69 576.43,211.4 578.4,208.77 586.29,206.15 592.86,205.23 598.12,203.91 602.06,204.83 604.03,207.46 609.95,208.77 615.21,206.8 617.83,209.43 621.78,213.38 624.41,215.35 628.35,216 633.61,217.98 638.86,219.95 644.12,218.63 649.38,216.66 657.27,217.98 665.15,218.9 667.12,214.69 669.1,213.64 673,213.65 677.6,216.55 684.17,218.52 690.75,219.44 696,220.49 701.26,219.44 705.21,217.86 709.15,218.52 713.09,219.44 717.03,217.2 719.01,213.26 721.64,209.97 726.24,208.92 730.84,209.97 733.46,213.26 735.44,217.86 739.38,219.83 743.32,221.8 745.29,224.43 749.89,225.09 753.18,223.77 751.87,227.06 748.58,231 745.95,233.63 746.61,236.26 M640,220 643.75,227.5 649.5,232 650,231.66 656.57,233.63 660.52,236.92 667.09,238.89 673.66,239.55 681.55,241.52 688.12,240.21 694.69,238.89 698.63,234.95 703.89,231.66 709.15,229.69 714.41,227.72 718.35,226.4 715.72,224.43 710.46,224.43 708.49,223.12 709.81,220.49 713.09,219.44 M730.12,245.05 733.95,243.41 738.34,241.22 742.17,239.03 746.55,236.29 M734.83,253.26 737.79,252.17 740.74,252.17 M643.69,291.91 642.6,287.52 643.14,282.05 646.43,280.95 650.81,282.6 651.91,286.43 652.45,291.36 M630,274.38 635.48,277.67 642.05,279.86 644.24,278.21 651.91,278.76 657.38,275.48 662.86,274.93 665.05,277.67 M643.69,278.76 647.52,280.95 651.91,280.73 651.91,278.76 M665.05,277.67 660.67,282.05 657.38,286.43 654.64,290.81 653,294.64 M665.05,277.67 667.79,280.95 667.24,286.43 669.43,290.81 672.17,295.19 669.98,299.03 666.14,301.76 665.6,306.14 667.24,311.62 668.34,317.1 667.79,321.48 M672.17,295.19 676,293.55 678.74,294.64 682.57,291.91 684.76,294.1 683.67,297.38 681.48,298.48 683.67,301.76 686.96,305.05 689.69,309.43 689.15,313.26 M672.17,295.19 673.26,300.67 676,302.86 678.19,301.76 681.48,305.05 684.76,310.53 684.22,313.81 M676.55,319.84 677.1,316 681.48,314.36 684.22,313.81 689.15,313.26 689.69,317.1 686.96,320.38 683.67,322.57 M678.74,294.64 683.67,291.36 686.96,292.45 687.5,295.74 M667.94,329.57 669.72,330.56 670.9,332.33 M698.87,347.82 701.33,349.79 705.28,350.28 707.25,346.83 708.73,343.38 710.21,340.91 713.16,341.9 M415.33,236.88 416.43,241.48 415.33,245.86 415.88,251.34 414.79,252.98 M431.76,237.97 436.14,239.29 439.98,240.16 M442.17,217.38 444.91,219.03 448.19,220.67 450.93,221.76 450.38,226.14 448.74,229.43 450.38,231.62 449.84,235.78 M444.91,214.64 448.19,215.74 449.29,217.93 448.19,220.67 M450.38,209.72 449.84,213.55 448.19,215.74 M450.93,221.76 451.48,227.79 456.96,227.24 462.43,226.69 M448.74,229.43 451.48,227.79 M456.96,227.24 458.05,229.43 454.76,231.07 451.48,231.62 451.48,233.81 M453.45,203.14 456.41,203.69 M466.83,208.04 467.32,212.67 468.31,216.12 465.84,216.62 462.89,218.1 465.84,220.56 464.86,221.55 459.93,223.02 455,223.52 M465.84,220.56 470.77,221.55 474.72,221.05 478.66,219.57 479.65,219.57 M468.31,216.12 471.76,217.11 475.7,218.59 479.65,219.57 484.57,220.07 488.52,219.57 490.49,216.62 489.5,213.66 489.01,210.7 490,207.74 486.55,206.76 483.59,206.27 M484.57,201.83 489.5,201.34 494.43,202.32 497.39,202.82 496.4,205.77 493.45,207.25 490,207.74 M491.47,197.39 494.43,197.89 498.38,197.39 499.85,199.37 500.84,201.83 497.39,202.82 M498.38,192.96 499.36,195.91 499.85,199.37 M500.84,201.83 505.28,202.32 507.25,205.77 510.21,209.22 508.23,211.19 506.26,213.66 501.33,214.15 496.4,213.66 491.47,213.66 489.5,213.66 M506.26,213.66 510.21,212.18 514.15,213.17 518.09,215.63 523.02,217.6 527.95,219.57 528.44,222.53 526.96,225.49 524.01,226.97 M488.52,219.57 490.49,221.55 494.43,223.02 498.38,223.02 502.32,224.01 504.29,226.47 504.29,228.94 M498.38,223.02 501.33,225.98 502.32,228.94 504.29,228.94 M474.72,221.05 478.66,222.53 483.59,222.04 488.52,219.57 M455,227.46 459.93,226.97 464.86,226.47 470.77,225.49 473.73,224.01 474.72,221.05 M473.73,224.01 478.66,222.53 M473.73,224.01 475.7,226.97 479.65,227.95 483.59,226.97 486.55,224.01 488.52,222.53 490.49,221.55 M486.55,224.01 484.57,227.46 485.56,230.42 488.52,233.38 492.46,234.36 496.4,233.38 499.85,235.35 M487.53,239.29 491.47,240.28 495.42,239.29 498.38,239.29 M488.52,233.38 487.53,236.33 487.53,239.29 M479.65,227.95 480.63,231.4 483.59,233.38 484.57,236.33 487.53,236.33 M464.86,226.47 466.83,229.43 470.77,228.94 475.7,226.97 M470.77,228.94 472.74,232.39 476.69,235.35 479.65,233.38 480.63,231.4 M476.69,235.35 479.65,238.3 481.62,241.26 483.59,239.29 487.53,239.29 M481.62,241.26 482.6,245.21 484.57,247.18 M483.59,239.29 484.57,241.26 488.52,241.26 492.46,240.77 495.42,239.29 496.4,241.26 495.91,243.23 M464.86,226.47 467.82,227.66 470.77,228.94 M460.81,190.05 461.91,185.67 463.55,181.29 467.38,176.91 471.76,173.62 477.24,169.79 482.72,167.6 487.1,166.5 488.74,168.14 490.38,171.43 489.84,174.17 492.03,175.26 M488.74,168.14 492.57,167.05 496.96,165.41 501.34,164.31 503.53,165.95 502.98,170.33 504.62,174.72 505.72,179.1 507.36,183.48 504.62,187.86 502.43,190.05 504.07,191.14 M503.53,165.95 505.72,164.86 M535.72,242.86 540.1,242.86 544.48,243.95 548.86,242.86 M538.46,245.05 542.29,247.24 545.58,248.34 546.67,251.62 M539.55,251.62 544.48,249.43 548.86,250.53 552.15,248.34 554.34,251.62"/>
<path fill="none" stroke="#8fa0b8" stroke-width="1.1" d="M96.6,165.2 L96.6,190.6"/>
</svg>
<div class="t1">Egypt Clinical Trial Imaging Market</div>
<div class="t2">Size, by Region, 2025-2034 (USD)</div>
<div class="lab" style="left:395px;top:347px;letter-spacing:0.3px;">MEA</div>
<div class="lab" style="left:376px;top:365.5px;letter-spacing:0.23px;">$ 0.40 B Egypt</div>
<div id="foot"></div>
<div class="f" style="left:11px;top:587.1px;font-size:16px;line-height:14.2px;"><span style="letter-spacing:0.24px">The Market will Grow</span><br><span style="letter-spacing:-0.1px">At the CAGR of:</span></div>
<div class="f" style="left:244.5px;top:597.5px;font-size:19px;letter-spacing:0.5px;">10.35%</div>
<div class="f" style="left:366.5px;top:587.1px;font-size:16px;line-height:14.2px;"><span style="letter-spacing:0.11px">The Forecast Market</span><br>Size for 2034 in USD:</div>
<div class="f" style="left:580.5px;top:597.5px;font-size:19px;">$US$ 0.85 B</div>
</body></html>
